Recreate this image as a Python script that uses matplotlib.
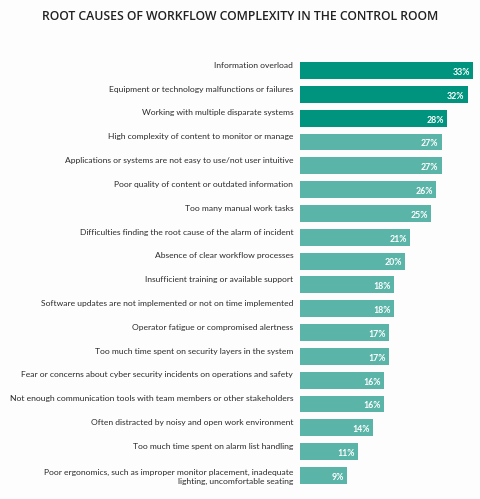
import matplotlib.pyplot as plt

# datos (de arriba a abajo)
causas = [
    'Information overload',
    'Equipment or technology malfunctions or failures',
    'Working with multiple disparate systems',
    'High complexity of content to monitor or manage',
    'Applications or systems are not easy to use/not user intuitive',
    'Poor quality of content or outdated information',
    'Too many manual work tasks',
    'Difficulties finding the root cause of the alarm of incident',
    'Absence of clear workflow processes',
    'Insufficient training or available support',
    'Software updates are not implemented or not on time implemented',
    'Operator fatigue or compromised alertness',
    'Too much time spent on security layers in the system',
    'Fear or concerns about cyber security incidents on operations and safety',
    'Not enough communication tools with team members or other stakeholders',
    'Often distracted by noisy and open work environment',
    'Too much time spent on alarm list handling',
    'Poor ergonomics, such as improper monitor placement, inadequate\nlighting, uncomfortable seating',
]
porcentajes = [33, 32, 28, 27, 27, 26, 25, 21, 20, 18, 18, 17, 17, 16, 16, 14, 11, 9]
top = 3  # las tres primeras van en color oscuro

plt.rcParams['font.family'] = ['Lato', 'DejaVu Sans']

fig = plt.figure(figsize=(4.8, 4.99), dpi=100)
fig.patch.set_facecolor('#fdfdfd')
ax = fig.add_axes([300 / 480, 11.6 / 499, 173 / 480, 428.8 / 499])
ax.set_facecolor('#fdfdfd')

pos = list(range(len(causas)))
colores = ['#00937d' if i < top else '#5ab4a8' for i in pos]
ax.barh(pos, porcentajes, height=0.71, color=colores)

for i, (c, v) in enumerate(zip(causas, porcentajes)):
    ax.text(v - 0.6, i + 0.08, f'{v}%', ha='right', va='center',
            color='white', fontsize=6.3, fontweight='bold')
    dy = -0.22 if '\n' not in c else 0.05
    ax.text(-1.3, i + dy, c, ha='right', va='center', color='#2a2a2a',
            fontsize=6.1, linespacing=1.3)

ax.set_xlim(0, 33)
ax.set_ylim(len(causas) - 0.5, -0.5)
ax.axis('off')

fig.text(0.5, 1 - 16 / 499, 'ROOT CAUSES OF WORKFLOW COMPLEXITY IN THE CONTROL ROOM',
         ha='center', va='center', fontsize=8.8, color='#222222',
         fontweight='semibold', family=['Open Sans', 'DejaVu Sans'])

fig.savefig('out.png', dpi=100, facecolor=fig.get_facecolor())
